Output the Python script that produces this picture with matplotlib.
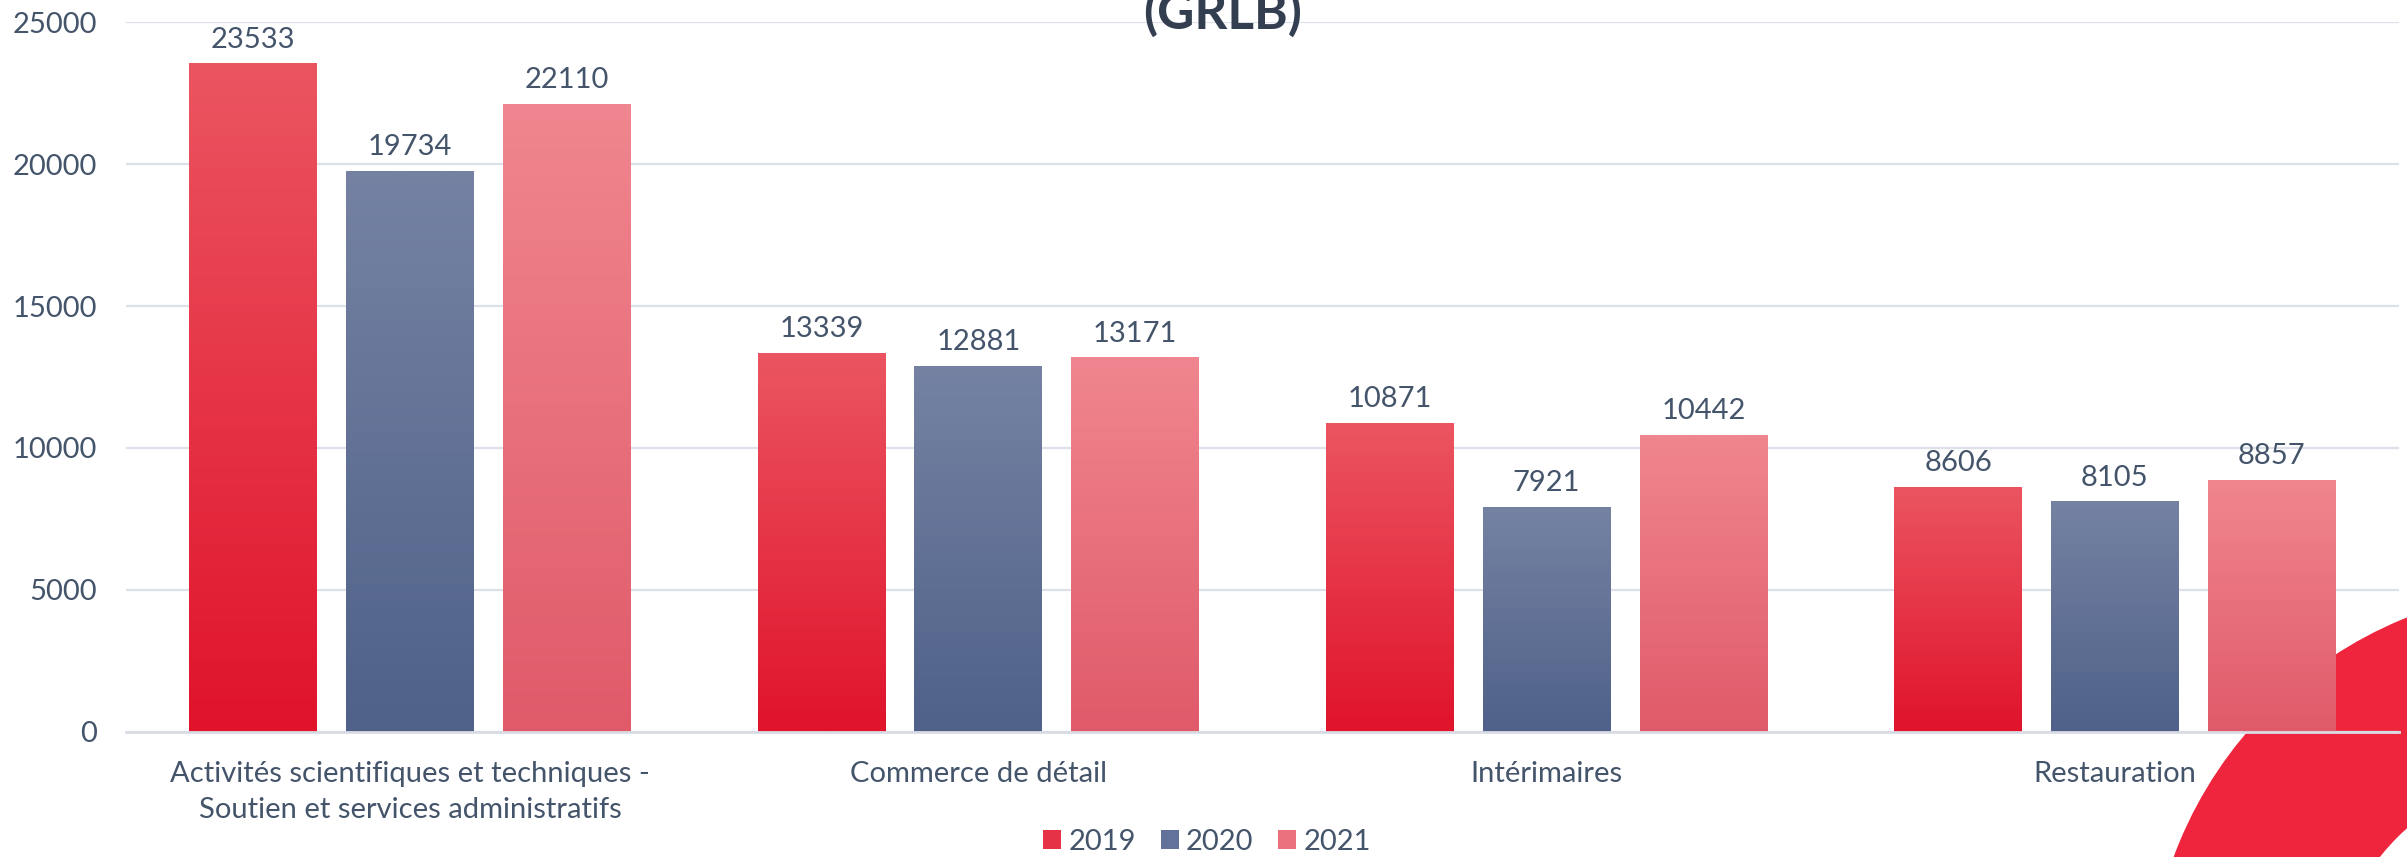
import numpy as np
import matplotlib
matplotlib.use("Agg")
import matplotlib.pyplot as plt
from matplotlib.patches import Wedge, Patch
from matplotlib.colors import to_rgb

plt.rcParams['font.family'] = ['Lato', 'DejaVu Sans']

# données
categories = ['Activités scientifiques et techniques -\nSoutien et services administratifs',
              'Commerce de détail', 'Intérimaires', 'Restauration']
annees = ['2019', '2020', '2021']
v2019 = [23533, 13339, 10871, 8606]
v2020 = [19734, 12881, 7921, 8105]
v2021 = [22110, 13171, 10442, 8857]
series = [v2019, v2020, v2021]

# dégradés (haut, bas)
couleurs_haut = ['#EB5561', '#7582A2', '#F0868F']
couleurs_bas = ['#E0132B', '#4F6189', '#E05A6A']
couleurs_legende = ['#E63246', '#63729A', '#EA707D']

texte = '#44546A'
grille = '#DCE0E8'

fig = plt.figure(figsize=(24.07, 8.57), dpi=100)

# décor : anneau rouge en bas à droite
fond = fig.add_axes([0, 0, 1, 1], zorder=0)
fond.set_xlim(0, 2407)
fond.set_ylim(857, 0)
fond.axis('off')
fond.add_patch(Wedge((2560, 1000), 412, 0, 360, width=182, color='#EF243D', lw=0))

ax = fig.add_axes([0.0523, 0.1459, 0.9444, 0.8284], zorder=1)
ax.patch.set_alpha(0)

x = np.arange(len(categories))
largeur = 0.225
decalages = [-0.276, 0, 0.276]


def degrade(c_haut, c_bas, n=256):
    h = np.array(to_rgb(c_haut))
    b = np.array(to_rgb(c_bas))
    t = np.linspace(0, 1, n)[:, None]
    return (b + (h - b) * t)[:, None, :]


for i, vals in enumerate(series):
    barres = ax.bar(x + decalages[i], vals, largeur, color='none', lw=0, zorder=2)
    img = degrade(couleurs_haut[i], couleurs_bas[i])
    for b in barres:
        ax.imshow(img, extent=(b.get_x(), b.get_x() + b.get_width(), 0, b.get_height()),
                  origin='lower', aspect='auto', zorder=2, interpolation='bilinear')
    ax.bar_label(barres, padding=8, fontsize=21, color=texte)

ax.set_xlim(-0.5, 3.5)
ax.set_ylim(0, 25000)
ax.set_yticks(range(0, 25001, 5000))
ax.set_xticks(x, categories)
ax.tick_params(axis='y', length=0, pad=21, labelsize=21, labelcolor=texte)
ax.tick_params(axis='x', length=0, pad=21, labelsize=21, labelcolor=texte)
for lab in ax.get_xticklabels():
    lab.set_linespacing(1.45)
ax.yaxis.grid(True, color=grille, lw=1.6)
ax.set_axisbelow(True)
for s in ['top', 'right', 'left']:
    ax.spines[s].set_visible(False)
ax.spines['bottom'].set_color('#D9DCE4')
ax.spines['bottom'].set_linewidth(2)

fig.text(0.508, 1 - 29 / 857, '(GRLB)', ha='center', va='baseline',
         fontsize=37, fontweight='bold', color='#333F50')

poignees = [Patch(facecolor=c, label=a) for c, a in zip(couleurs_legende, annees)]
fig.legend(handles=poignees, loc='lower center', bbox_to_anchor=(0.5015, -0.028), ncol=3,
           frameon=False, fontsize=21, labelcolor=texte, handlelength=0.62, handleheight=0.62,
           handletextpad=0.25, columnspacing=0.85)

fig.savefig('out.png', dpi=100)
